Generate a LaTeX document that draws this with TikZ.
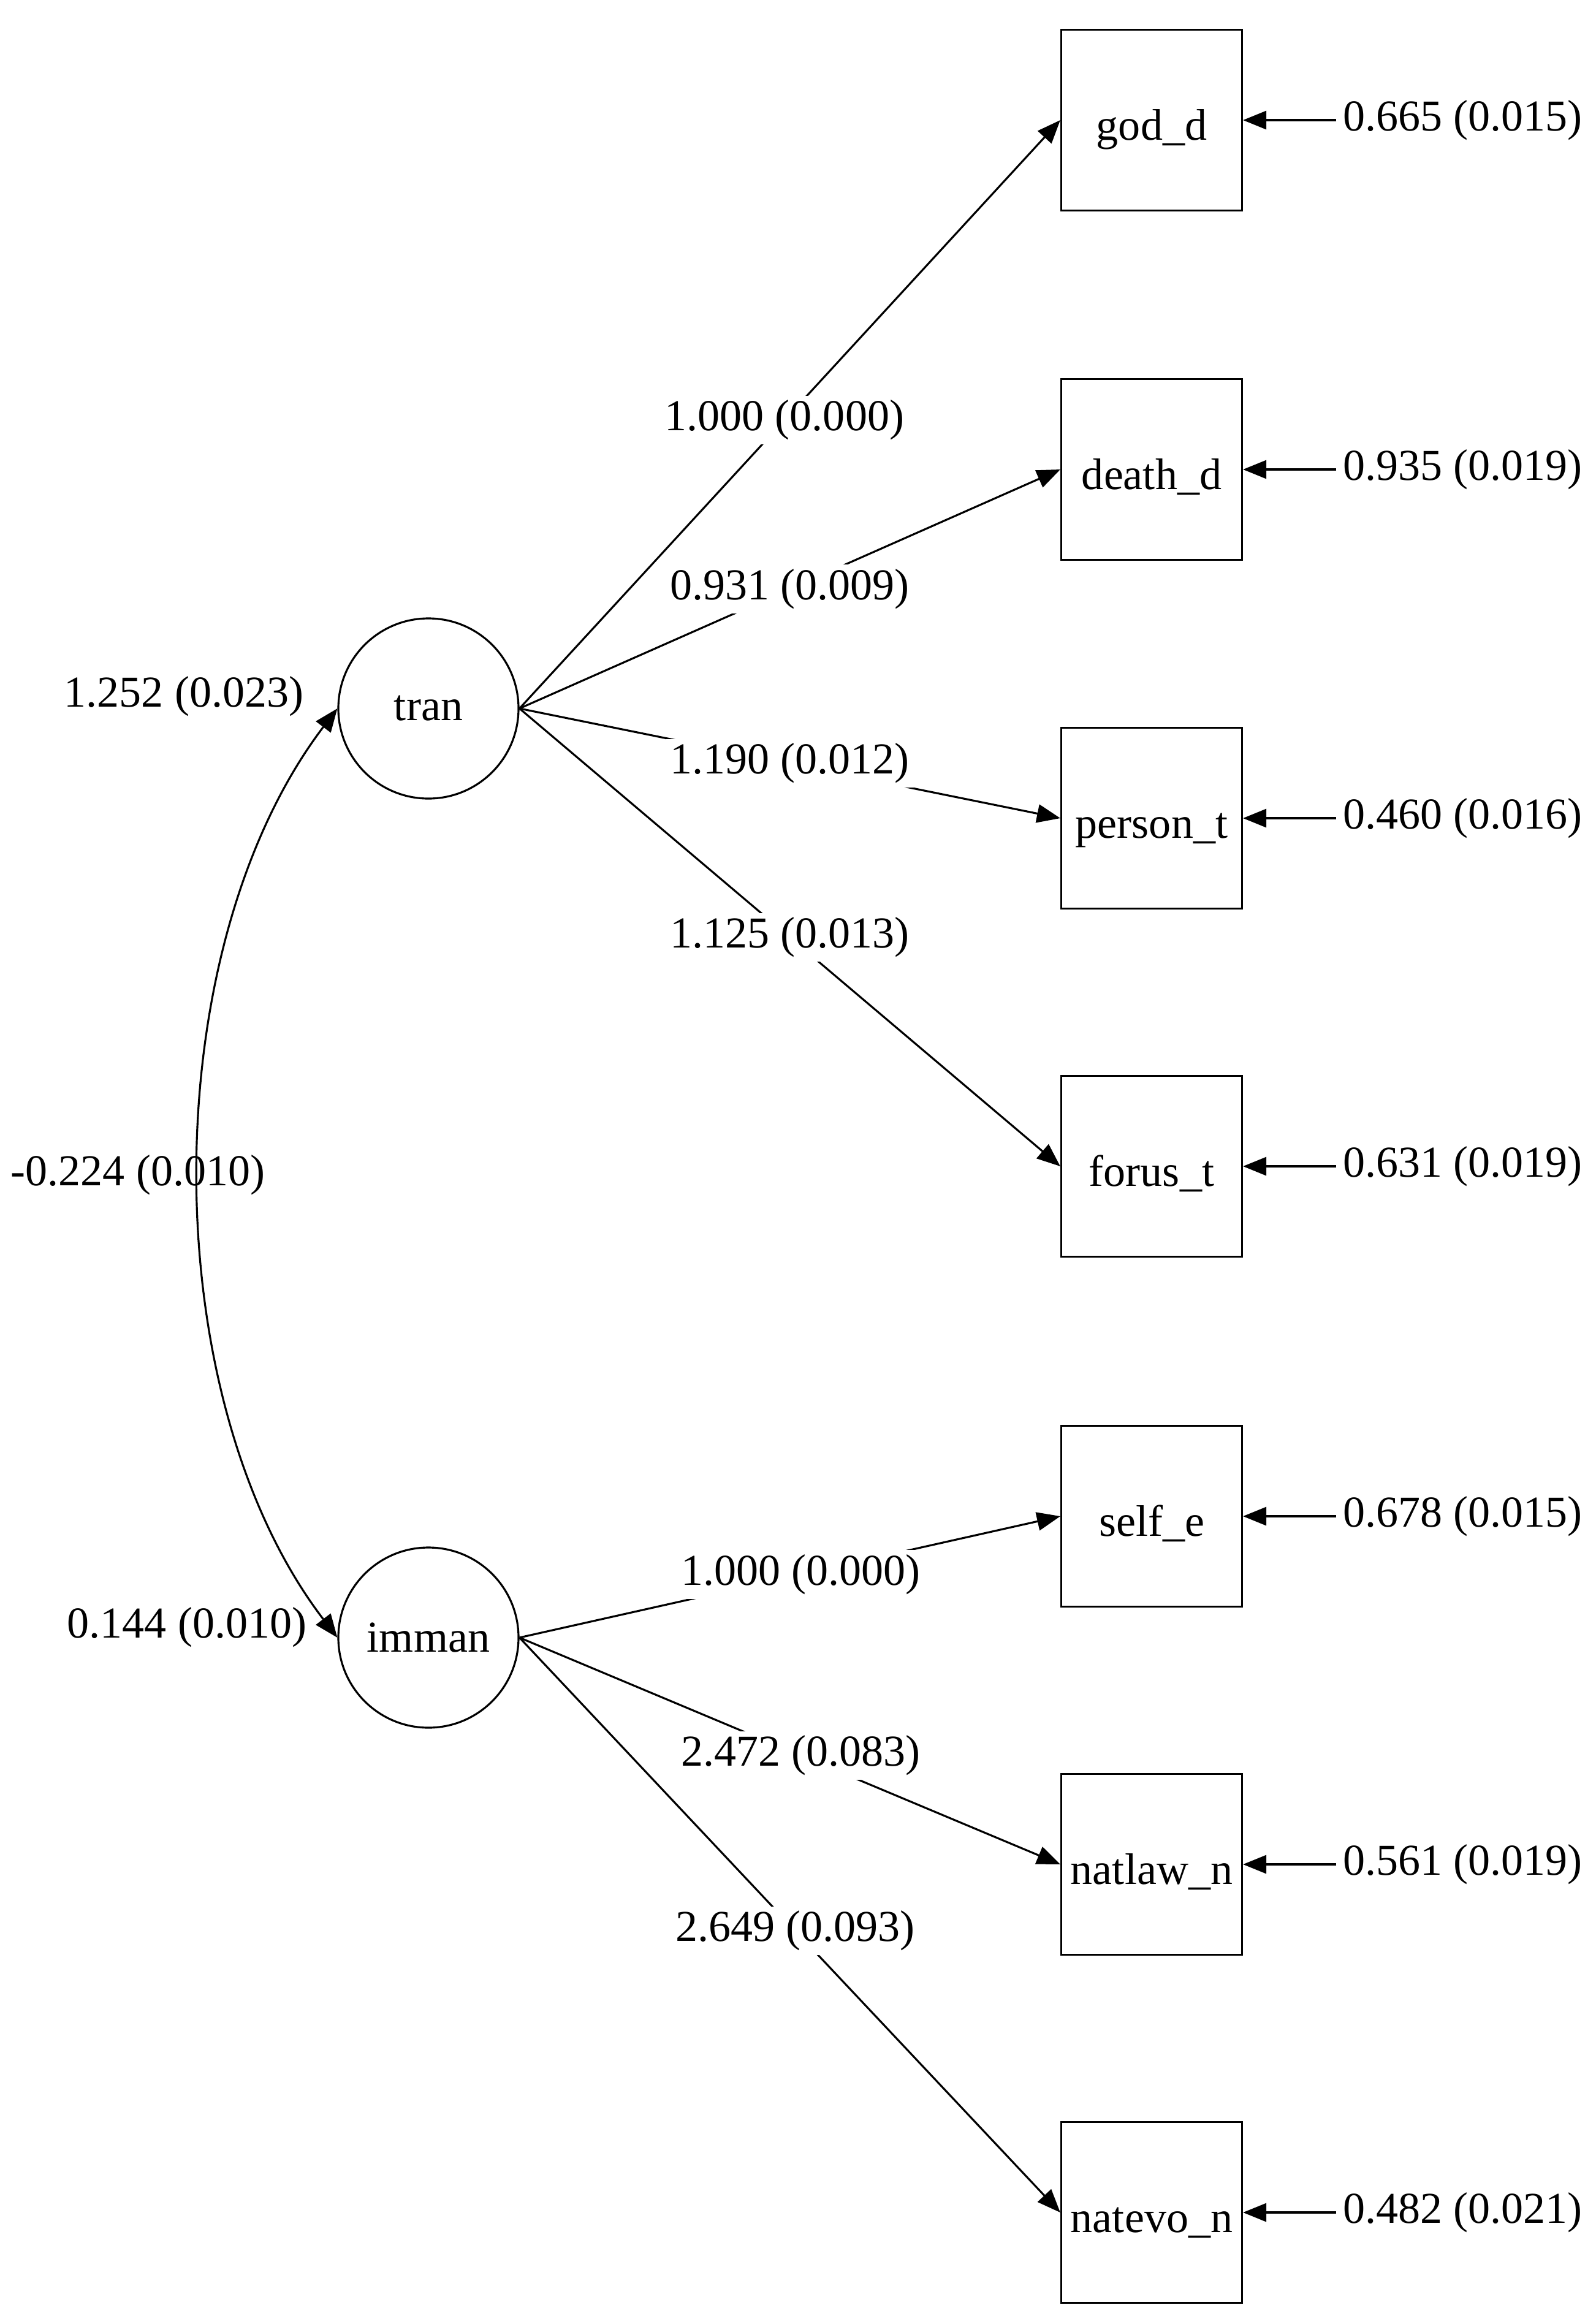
\documentclass[tikz,border=0pt]{standalone}
\usepackage{fontspec}
\setmainfont{Liberation Serif}
\usetikzlibrary{arrows.meta}

\begin{document}
\begin{tikzpicture}[
    font=\fontsize{20.5}{24}\selectfont,
    latent/.style={circle, draw, line width=0.9pt, minimum size=2.94cm, inner sep=0pt},
    observed/.style={rectangle, draw, line width=0.9pt, minimum size=2.95cm, inner sep=0pt,
      text height=0.8cm, text depth=0.16cm},
    loading/.style={-{Triangle[length=0.38cm,width=0.3cm]}, line width=0.9pt},
    est/.style={fill=white, inner sep=2pt},
    resid/.style={anchor=west, inner sep=3pt}
  ]
  \useasboundingbox (0,0) rectangle (26.04,-37.92);

  % latent factors
  \node[latent] (tran) at (6.99, -11.56) {tran};
  \node[latent] (imman) at (6.99, -26.72) {imman};

  % indicators
  \node[observed] (god_d) at (18.79, -1.96) {god\_d};
  \node[observed] (death_d) at (18.79, -7.66) {death\_d};
  \node[observed] (person_t) at (18.79, -13.35) {person\_t};
  \node[observed] (forus_t) at (18.79, -19.03) {forus\_t};
  \node[observed] (self_e) at (18.79, -24.74) {self\_e};
  \node[observed] (natlaw_n) at (18.79, -30.42) {natlaw\_n};
  \node[observed] (natevo_n) at (18.79, -36.10) {natevo\_n};

  % loadings
  \draw[loading] (tran.east) -- node[est, pos=0.49] {1.000 (0.000)} (god_d.west);
  \draw[loading] (tran.east) -- node[est, pos=0.5] {0.931 (0.009)} (death_d.west);
  \draw[loading] (tran.east) -- node[est, pos=0.5] {1.190 (0.012)} (person_t.west);
  \draw[loading] (tran.east) -- node[est, pos=0.5] {1.125 (0.013)} (forus_t.west);

  \draw[loading] (imman.east) -- node[est, pos=0.52] {1.000 (0.000)} (self_e.west);
  \draw[loading] (imman.east) -- node[est, pos=0.52] {2.472 (0.083)} (natlaw_n.west);
  \draw[loading] (imman.east) -- node[est, pos=0.51] {2.649 (0.093)} (natevo_n.west);

  % residual variances
  \node[resid] (r1) at (21.8, -1.96) {0.665 (0.015)};
  \node[resid] (r2) at (21.8, -7.66) {0.935 (0.019)};
  \node[resid] (r3) at (21.8, -13.35) {0.460 (0.016)};
  \node[resid] (r4) at (21.8, -19.03) {0.631 (0.019)};
  \node[resid] (r5) at (21.8, -24.74) {0.678 (0.015)};
  \node[resid] (r6) at (21.8, -30.42) {0.561 (0.019)};
  \node[resid] (r7) at (21.8, -36.10) {0.482 (0.021)};

  \draw[loading] (r1) -- (god_d);
  \draw[loading] (r2) -- (death_d);
  \draw[loading] (r3) -- (person_t);
  \draw[loading] (r4) -- (forus_t);
  \draw[loading] (r5) -- (self_e);
  \draw[loading] (r6) -- (natlaw_n);
  \draw[loading] (r7) -- (natevo_n);

  % factor variances and covariance
  \node (vtran) at (3.00, -11.36) {1.252 (0.023)};
  \node (vimman) at (3.05, -26.55) {0.144 (0.010)};
  \draw[{Triangle[length=0.38cm,width=0.3cm]}-{Triangle[length=0.38cm,width=0.3cm]}, line width=0.9pt]
    (tran.west) .. controls (2.51, -15.5) and (2.51, -22.8) .. (imman.west);
  \node (cov) at (2.25, -19.17) {-0.224 (0.010)};
\end{tikzpicture}
\end{document}
